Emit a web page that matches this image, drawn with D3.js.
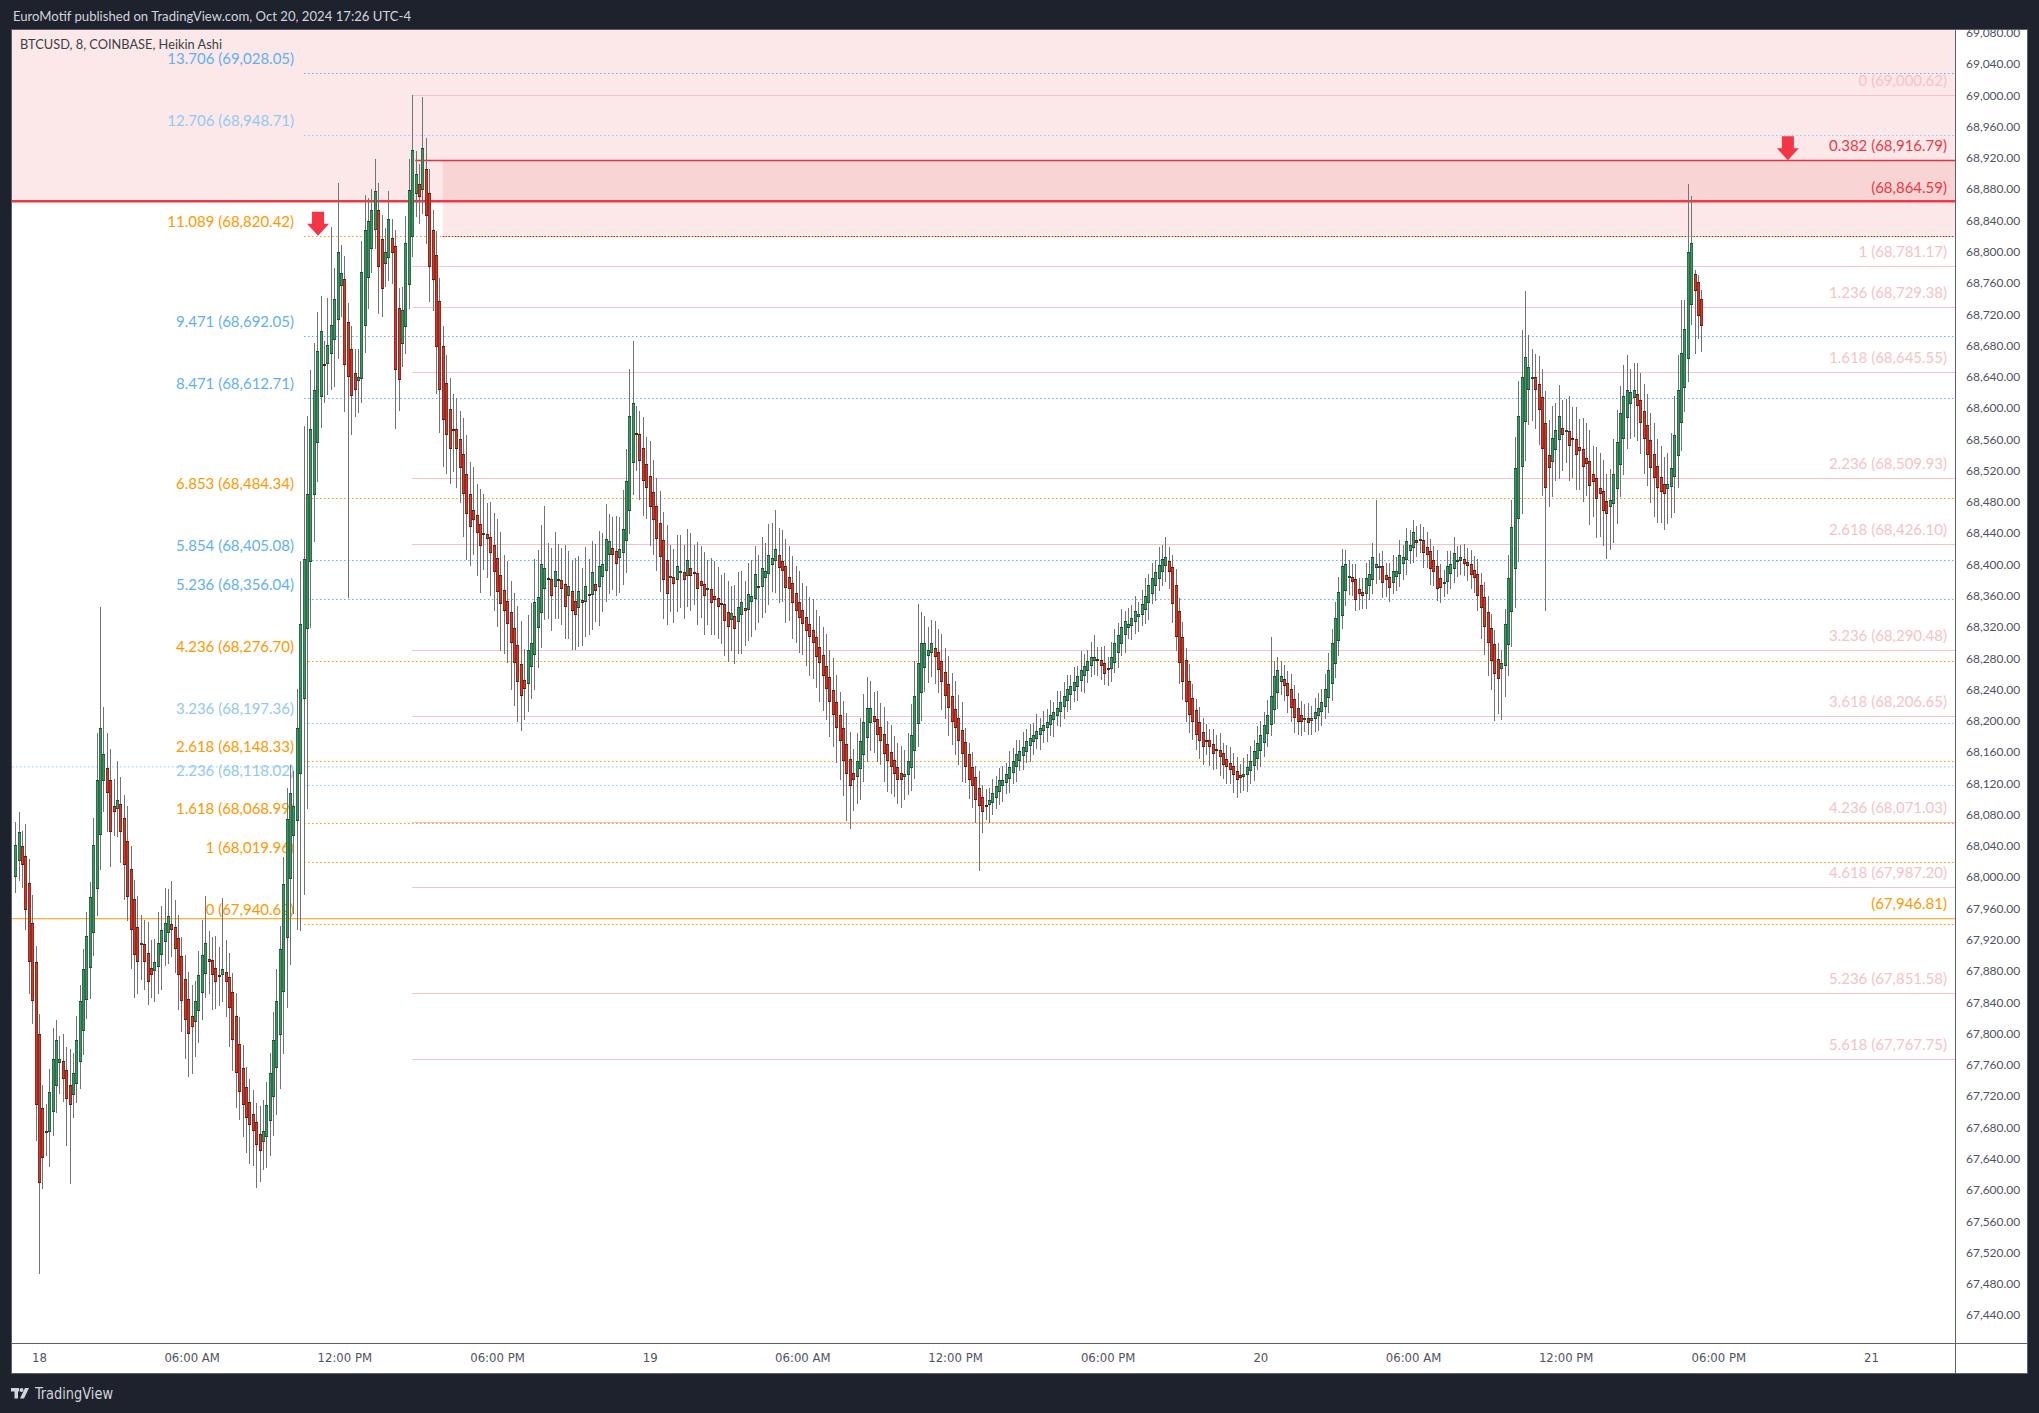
<!DOCTYPE html>
<html><head><meta charset="utf-8">
<script src="https://cdn.jsdelivr.net/npm/d3@7"></script>
<style>body{margin:0;background:#1e222d;overflow:hidden}svg{display:block}</style>
</head><body>
<svg id="c" width="2039" height="1413"></svg>
<script>
// ---------------- DATA ----------------
// Heikin Ashi close per 8-minute bar (BTCUSD, Coinbase), last bar Oct 20 17:20
const haClose = [
68041,68058,68016,67958,67891,67842,67708,67609,67641,67675,
67725,67767,67792,67767,67742,67716,67708,67750,67792,67842,
67883,67925,67974,68041,68124,68191,68157,68108,68058,68083,
68099,68058,68016,67974,67933,67900,67891,67916,67891,67866,
67875,67891,67916,67933,67941,67950,67933,67908,67875,67842,
67817,67800,67808,67842,67875,67900,67916,67891,67875,67866,
67875,67883,67866,67833,67792,67750,67725,67708,67692,67683,
67675,67658,67650,67675,67708,67750,67792,67842,67908,67991,
68074,68108,68091,68191,68324,68407,68490,68573,68623,68673,
68698,68656,68681,68706,68739,68800,68773,68655,68640,68615,
68623,68640,68774,68828,68839,68853,68878,68780,68752,68800,
68842,68798,68649,68636,68725,68811,68879,68930,68899,68870,
68933,68845,68780,68764,68678,68623,68585,68565,68548,68573,
68548,68523,68490,68465,68448,68457,68440,68424,68440,68432,
68415,68390,68365,68349,68340,68324,68299,68274,68249,68232,
68241,68290,68300,68352,68358,68400,68395,68380,68360,68392,
68380,68368,68345,68372,68340,68335,68366,68350,68372,68360,
68390,68366,68398,68400,68432,68430,68412,68400,68420,68445,
68507,68590,68606,68565,68532,68507,68498,68473,68457,68432,
68410,68380,68362,68385,68375,68398,68392,68380,68405,68385,
68388,68368,68372,68360,68370,68350,68355,68345,68348,68328,
68320,68338,68318,68345,68352,68340,68362,68360,68388,68370,
68395,68392,68412,68408,68420,68396,68392,68370,68368,68350,
68340,68332,68324,68315,68307,68299,68282,68274,68257,68241,
68224,68207,68191,68174,68149,68132,68116,68124,68149,68174,
68199,68216,68216,68199,68182,68174,68157,68149,68141,68132,
68124,68124,68132,68149,68182,68232,68274,68299,68299,68290,
68299,68282,68265,68249,68232,68216,68199,68191,68174,68157,
68141,68124,68116,68099,68091,68083,68091,68099,68108,68116,
68124,68124,68132,68141,68149,68157,68161,68166,68174,68178,
68182,68187,68191,68194,68199,68207,68211,68216,68224,68232,
68241,68244,68249,68257,68265,68270,68277,68282,68282,68277,
68270,68260,68265,68282,68299,68310,68320,68327,68324,68332,
68340,68337,68349,68360,68374,68382,68390,68399,68407,68410,
68390,68349,68307,68274,68249,68224,68207,68199,68182,68174,
68166,68174,68166,68157,68161,68154,68144,68141,68137,68131,
68124,68127,68132,68141,68149,68161,68171,68182,68194,68207,
68232,68257,68265,68257,68244,68232,68216,68204,68199,68199,
68204,68197,68204,68211,68216,68224,68241,68265,68299,68332,
68365,68398,68400,68385,68378,68355,68362,68360,68382,68388,
68410,68400,68398,68376,68380,68370,68392,68392,68412,68410,
68430,68425,68442,68428,68432,68414,68412,68394,68390,68368,
68370,68378,68398,68400,68415,68405,68410,68400,68398,68386,
68382,68360,68344,68320,68299,68277,68260,68254,68274,68324,
68382,68448,68523,68590,68640,68665,68653,68640,68623,68598,
68548,68498,68523,68562,68572,68590,68565,68572,68552,68560,
68540,68545,68525,68528,68500,68505,68484,68490,68468,68465,
68482,68515,68557,68593,68615,68623,68620,68623,68603,68581,
68560,68540,68523,68510,68498,68493,68490,68503,68523,68565,
68623,68670,68701,68800,68811,68750,68718,68705
];
// upper wick reach above the body, per bar (price units)
const wickUp = [
30,25,20,40,30,35,20,25,30,35, 30,40,25,30,35,30,45,25,30,20,
25,30,20,35,60,155,60,45,40,35, 50,35,30,45,30,25,40,35,30,40,
35,30,40,30,45,35,55,35,30,25, 30,35,40,25,30,45,60,35,30,40,
35,90,40,30,25,30,35,30,25,30, 30,25,35,40,30,25,35,40,30,35,
40,35,45,50,80,170,100,75,60,50, 45,30,60,125,40,88,35,30,25,30,
30,35,40,45,30,27,40,35,30,30, 35,25,20,25,30,35,40,70.62,30,25,
65,40,30,25,30,30,25,35,40,45, 40,35,45,50,40,55,40,45,50,40,
45,40,50,55,45,50,40,45,50,55, 40,45,50,55,60,50,80,45,40,50,
45,40,50,45,40,55,45,40,50,45, 40,50,45,40,45,35,40,45,40,50,
40,60,80,35,30,40,35,45,40,35, 40,35,45,40,35,40,45,35,40,45,
35,40,45,40,35,40,45,40,35,40, 40,35,40,45,40,35,40,45,35,40,
40,35,40,45,50,35,40,35,40,35, 35,40,35,40,35,40,35,40,35,40,
35,40,35,30,35,40,35,30,35,30, 35,40,35,30,35,30,35,30,35,30,
30,35,30,35,40,45,75,40,35,30, 30,35,30,35,30,35,30,35,30,35,
18,15,20,14,22,16,20,15,18,14, 15,18,14,20,16,18,14,20,15,18,
15,22,12,18,16,20,13,22,14,18, 18,15,20,13,24,16,14,19,28,15,
16,22,14,19,18,15,23,13,20,16, 19,15,18,22,14,20,16,23,18,25,
18,15,21,17,19,15,22,18,14,20, 17,20,15,19,18,22,14,18,20,17,
18,15,20,17,19,15,22,18,17,20, 75,19,17,20,18,15,19,17,20,18,
17,19,15,18,20,17,19,22,18,20, 19,22,18,20,17,19,15,18,20,17,
18,83,17,19,15,18,20,17,19,15, 17,19,15,18,20,17,19,15,18,20,
18,15,19,17,20,18,15,19,17,18, 17,19,15,18,20,17,18,20,17,19,
30,35,40,45,60,85,40,35,30,35, 35,40,45,40,35,40,35,40,45,40,
40,35,40,45,40,35,40,45,40,35, 40,45,40,35,40,45,30,35,40,35,
35,40,35,40,35,40,35,40,45,50, 45,68,37,86,60,5,10,12
];
// lower wick reach below the body, per bar (price units)
const wickDn = [
20,25,30,25,40,30,45,117,40,30, 45,30,35,40,30,60,100,30,25,35,
30,25,40,30,35,45,40,50,45,30, 35,40,45,30,50,55,40,45,35,30,
30,40,35,45,30,40,35,30,45,40, 50,55,60,45,40,35,30,40,45,35,
40,35,45,50,40,45,35,40,45,50, 45,55,40,35,40,45,50,60,70,80,
90,110,100,140,200,250,230,85,60,50, 40,50,40,45,60,50,40,60,283,50,
35,40,30,35,40,30,25,60,35,30, 30,40,76,40,30,35,30,25,30,35,
30,35,45,40,60,55,60,50,45,55, 50,45,55,60,50,45,55,60,45,50,
55,50,45,60,55,50,60,55,50,45, 40,35,40,45,50,45,40,50,45,40,
50,45,40,55,50,45,50,55,45,50, 45,40,50,45,40,50,45,40,45,40,
40,30,40,45,50,45,40,50,45,40, 45,50,40,45,50,40,45,50,40,45,
40,45,40,50,45,40,45,40,50,45, 45,40,45,40,50,45,40,45,40,45,
40,45,40,35,40,45,40,45,40,45, 40,45,40,45,50,45,40,50,45,40,
45,40,45,50,45,60,55,40,35,40, 35,30,35,40,35,30,35,40,35,30,
30,35,30,25,30,35,30,35,30,35, 30,35,30,35,30,35,30,35,30,35,
20,24,28,30,83,26,18,22,16,15, 16,20,14,18,15,20,14,18,15,20,
17,13,20,15,18,14,22,12,19,15, 14,19,15,18,13,22,16,14,18,20,
18,14,20,16,13,19,15,22,14,18, 15,20,14,18,22,13,19,15,18,21,
21,24,18,27,23,25,22,24,20,23, 22,18,24,20,23,25,19,22,18,24,
23,20,18,22,17,19,15,20,18,17, 15,18,20,17,19,22,18,20,17,19,
18,15,19,17,20,18,15,19,22,18, 20,17,19,22,18,15,20,17,19,18,
18,20,17,19,22,18,15,19,17,20, 19,17,20,18,15,19,17,20,18,15,
20,18,15,19,17,20,18,15,19,17, 18,20,40,36,42,38,60,45,66,40,
40,45,50,55,60,50,45,55,50,45, 60,158,50,45,40,50,45,40,45,50,
45,50,45,40,50,45,50,55,45,58, 55,50,45,40,45,40,45,50,45,40,
45,40,45,50,45,40,46,45,40,45, 40,35,30,30,25,81,30,33
];
const firstOpen = 68000;
const lastBarTime = Date.UTC(2024, 9, 20, 17, 20);
const barMinutes = 8;

const priceTicks = [69080,69040,69000,68960,68920,68880,68840,68800,68760,68720,68680,68640,
  68600,68560,68520,68480,68440,68400,68360,68320,68280,68240,68200,68160,68120,68080,68040,
  68000,67960,67920,67880,67840,67800,67760,67720,67680,67640,67600,67560,67520,67480,67440];
const timeTickDates = [Date.UTC(2024,9,18,0),Date.UTC(2024,9,18,6),Date.UTC(2024,9,18,12),Date.UTC(2024,9,18,18),
  Date.UTC(2024,9,19,0),Date.UTC(2024,9,19,6),Date.UTC(2024,9,19,12),Date.UTC(2024,9,19,18),
  Date.UTC(2024,9,20,0),Date.UTC(2024,9,20,6),Date.UTC(2024,9,20,12),Date.UTC(2024,9,20,18),Date.UTC(2024,9,21,0)];
const timeTickLabels = ["18","06:00 AM","12:00 PM","06:00 PM","19","06:00 AM","12:00 PM","06:00 PM","20","06:00 AM","12:00 PM","06:00 PM","21"];

// Fib extension A (labels on the left)
const fibALevels = ["13.706","12.706","11.089","9.471","8.471","6.853","5.854","5.236","4.236","3.236","2.618","2.236","1.618","1","0"];
const fibAPrices = [69028.05,68948.71,68820.42,68692.05,68612.71,68484.34,68405.08,68356.04,68276.70,68197.36,68148.33,68118.02,68068.99,68019.96,67940.62];
const fibAGroup  = ["b","lb","o","b","b","o","b","b","o","lb","o","lb","o","o","o"];
const fibAStart = Date.UTC(2024,9,18,10,25);

// Fib retracement B (labels on the right), anchored at the Oct 18 high
const fibBLevels = ["0","0.382","1","1.236","1.618","2.236","2.618","3.236","3.618","4.236","4.618","5.236","5.618"];
const fibBPrices = [69000.62,68916.79,68781.17,68729.38,68645.55,68509.93,68426.10,68290.48,68206.65,68071.03,67987.20,67851.58,67767.75];
const fibBStart = Date.UTC(2024,9,18,14,40);

// horizontal lines
const hLinePrices = [68864.59, 67946.81, 68141.00];
const hLineGroup  = ["red","orange","lb"];
const hLineLabeled = [true, true, false];

// zones
const zoneTopPrice = 68864.59;
const zone2Prices = [68916.79, 68820.42];
const zone2Start = Date.UTC(2024,9,18,15,52);

// arrows (time, price of the tip)
const arrowTimes = [Date.UTC(2024,9,18,10,58), Date.UTC(2024,9,20,20,44)];
const arrowPrices = [68820.42, 68916.79];

// ---------------- DRAW ----------------
const W = 2039, H = 1413;
const P = {l: 12, r: 1955, t: 30, b: 1343, axR: 2027, bot: 1373};
const svg = d3.select("#c");
const FONT = "Lato, 'Noto Sans', sans-serif";
const NARROW = "'Liberation Sans Narrow','DejaVu Sans Condensed','Roboto Condensed',sans-serif";
const fmt = d3.format(",.2f");
const color = {b:"#5fb0f4", lb:"#92c8f5", o:"#ff9800", red:"#f23645", orange:"#ff9800", pink:"#f6c2c6", pinkText:"#f7c2c6"};

const x = d3.scaleUtc().domain([Date.UTC(2024,9,18), Date.UTC(2024,9,21)]).range([39, 1871]);
const y = d3.scaleLinear().domain([69040, 67440]).range([64, 1315]);

svg.append("rect").attr("width", W).attr("height", H).attr("fill", "#1e222d");
svg.append("rect").attr("x", P.l).attr("y", P.t).attr("width", P.axR - P.l).attr("height", P.bot - P.t).attr("fill", "#ffffff");

const defs = svg.append("defs");
defs.append("clipPath").attr("id", "plotClip").append("rect")
  .attr("x", P.l).attr("y", P.t).attr("width", P.r - P.l).attr("height", P.b - P.t);
defs.append("clipPath").attr("id", "axClip").append("rect")
  .attr("x", P.r).attr("y", P.t).attr("width", P.axR - P.r).attr("height", P.b - P.t);

const g = svg.append("g").attr("clip-path", "url(#plotClip)");

// zones
g.append("rect").attr("x", P.l).attr("y", P.t - 5).attr("width", P.r - P.l)
  .attr("height", y(zoneTopPrice) - P.t + 5).attr("fill", "rgba(235,77,77,0.13)");
g.append("rect").attr("x", x(zone2Start)).attr("y", y(zone2Prices[0])).attr("width", P.r - x(zone2Start))
  .attr("height", y(zone2Prices[1]) - y(zone2Prices[0])).attr("fill", "rgba(235,77,77,0.13)");

// fib B lines
fibBLevels.forEach((lv, k) => {
  const yy = Math.round(y(fibBPrices[k])) + 0.5;
  const hi = lv === "0.382";
  g.append("line").attr("x1", x(fibBStart) + (hi ? 3 : 0)).attr("x2", P.r).attr("y1", yy).attr("y2", yy)
    .attr("stroke", hi ? "#e8303f" : color.pink).attr("stroke-width", hi ? 1.5 : 1);
  g.append("text").attr("x", P.r - 8).attr("y", yy - 10).attr("text-anchor", "end")
    .attr("font-family", FONT).attr("font-size", 15)
    .attr("fill", hi ? color.red : color.pinkText)
    .text(`${lv} (${fmt(fibBPrices[k])})`);
});

// fib A lines
fibALevels.forEach((lv, k) => {
  const yy = Math.round(y(fibAPrices[k])) + 0.5;
  const c = color[fibAGroup[k]];
  g.append("line").attr("x1", x(fibAStart)).attr("x2", P.r).attr("y1", yy).attr("y2", yy)
    .attr("stroke", c).attr("stroke-width", 1).attr("stroke-dasharray", "1.5,2.5");
  g.append("text").attr("x", x(fibAStart) - 10).attr("y", yy - 10).attr("text-anchor", "end")
    .attr("font-family", FONT).attr("font-size", 15).attr("fill", c)
    .text(`${lv} (${fmt(fibAPrices[k])})`);
});

// zone 2 lower border (dotted dark red)
g.append("line").attr("x1", x(zone2Start)).attr("x2", P.r)
  .attr("y1", Math.round(y(zone2Prices[1])) + 0.5).attr("y2", Math.round(y(zone2Prices[1])) + 0.5)
  .attr("stroke", "#b3261e").attr("stroke-width", 1).attr("stroke-dasharray", "1.5,1.5");

// horizontal lines
hLinePrices.forEach((p, k) => {
  const grp = hLineGroup[k];
  const yy = y(p);
  g.append("line").attr("x1", P.l).attr("x2", P.r).attr("y1", yy).attr("y2", yy)
    .attr("stroke", color[grp]).attr("stroke-width", grp === "red" ? 2.5 : 1)
    .attr("stroke-dasharray", grp === "lb" ? "1.5,2.5" : null);
  if (hLineLabeled[k]) {
    g.append("text").attr("x", P.r - 8).attr("y", yy + (grp === "red" ? -8 : -10)).attr("text-anchor", "end")
      .attr("font-family", FONT).attr("font-size", 15).attr("fill", color[grp])
      .text(`(${fmt(p)})`);
  }
});

// arrows
arrowTimes.forEach((t, k) => {
  const cx = x(t), ty = y(arrowPrices[k]);
  g.append("path").attr("fill", "#f23645")
    .attr("d", `M${cx-6},${ty-24}H${cx+6}V${ty-12}H${cx+11}L${cx},${ty}L${cx-11},${ty-12}H${cx-6}Z`);
});

// candles (Heikin Ashi: open = midpoint of the previous body)
const bars = [];
haClose.forEach((c, i) => {
  const o = i === 0 ? firstOpen : (bars[i-1].o + bars[i-1].c) / 2;
  const h = Math.max(o, c) + wickUp[i];
  const l = Math.min(o, c) - wickDn[i];
  bars.push({o, c, h, l, up: c >= o, t: new Date(lastBarTime - (haClose.length - 1 - i) * barMinutes * 60000)});
});
const barPx = d => Math.round(x(d.t));
const bodyTop = d => Math.round(y(Math.max(d.o, d.c)));
const bodyH = d => Math.max(2, Math.round(y(Math.min(d.o, d.c))) - bodyTop(d));
const cg = g.append("g");
cg.selectAll("line.w").data(bars).join("line").attr("class", "w")
  .attr("x1", d => barPx(d) + 0.5).attr("x2", d => barPx(d) + 0.5)
  .attr("y1", d => Math.round(y(d.h))).attr("y2", d => Math.round(y(d.l)))
  .attr("stroke", "#737375").attr("stroke-width", 1);
cg.selectAll("rect.bo").data(bars).join("rect").attr("class", "bo")
  .attr("x", d => barPx(d) - 1).attr("width", 3)
  .attr("y", d => bodyTop(d)).attr("height", d => bodyH(d))
  .attr("fill", d => d.up ? "#1e4a33" : "#5c1a12");
cg.selectAll("rect.bi").data(bars.filter(d => bodyH(d) > 2)).join("rect").attr("class", "bi")
  .attr("x", d => barPx(d) - 0.5).attr("width", 2)
  .attr("y", d => bodyTop(d) + 1).attr("height", d => bodyH(d) - 2)
  .attr("fill", d => d.up ? "#3f9463" : "#cf3b2b");

// legend
svg.append("text").attr("x", 20).attr("y", 49).attr("font-family", FONT).attr("font-size", 13)
  .attr("fill", "#3b3e47").attr("textLength", 202).attr("lengthAdjust", "spacingAndGlyphs")
  .text("BTCUSD, 8, COINBASE, Heikin Ashi");

// axes
const ay = svg.append("g").attr("clip-path", "url(#axClip)").append("g")
  .attr("transform", `translate(${P.r},0)`)
  .call(d3.axisRight(y).tickValues(priceTicks).tickFormat(fmt).tickSize(0).tickPadding(11));
ay.select(".domain").remove();
ay.selectAll("text").attr("font-family", FONT).attr("font-size", 12).attr("fill", "#50535e");

const ax = svg.append("g").attr("transform", `translate(0,${P.b})`)
  .call(d3.axisBottom(x).tickValues(timeTickDates.map(d => new Date(d)))
    .tickFormat((d, i) => timeTickLabels[i]).tickSize(0).tickPadding(10));
ax.select(".domain").remove();
ax.selectAll("text").attr("font-family", NARROW).attr("font-size", 13).attr("fill", "#50535e");

// panel borders
const bc = "#5d606b";
svg.append("rect").attr("x", P.l - 0.5).attr("y", P.t - 0.5).attr("width", P.axR - P.l + 1).attr("height", P.bot - P.t + 1)
  .attr("fill", "none").attr("stroke", bc).attr("stroke-width", 1);
svg.append("line").attr("x1", P.r + 0.5).attr("x2", P.r + 0.5).attr("y1", P.t).attr("y2", P.bot).attr("stroke", bc);
svg.append("line").attr("x1", P.l).attr("x2", P.axR).attr("y1", P.b + 0.5).attr("y2", P.b + 0.5).attr("stroke", bc);

// header
svg.append("text").attr("x", 13).attr("y", 21).attr("font-family", FONT).attr("font-size", 13.5)
  .attr("fill", "#d1d4dc").attr("textLength", 398).attr("lengthAdjust", "spacingAndGlyphs")
  .text("EuroMotif published on TradingView.com, Oct 20, 2024 17:26 UTC-4");

// footer logo
const lg = svg.append("g").attr("fill", "#d1d4dc");
lg.append("rect").attr("x", 11).attr("y", 1388).attr("width", 8).attr("height", 3.5);
lg.append("rect").attr("x", 14.5).attr("y", 1388).attr("width", 3.5).attr("height", 10.5);
lg.append("circle").attr("cx", 21.5).attr("cy", 1390).attr("r", 2);
lg.append("path").attr("d", "M25,1388H29L24,1398.5H20Z");
svg.append("text").attr("x", 35).attr("y", 1398.5).attr("font-family", NARROW).attr("font-size", 15)
  .attr("fill", "#d1d4dc").attr("textLength", 78).attr("lengthAdjust", "spacingAndGlyphs").text("TradingView");
</script>
</body></html>
